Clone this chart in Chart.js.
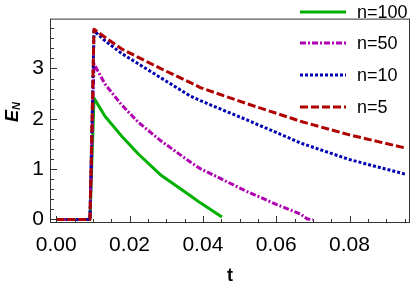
<!DOCTYPE html>
<html>
<head>
<meta charset="utf-8">
<script src="https://cdn.jsdelivr.net/npm/chart.js@4.4.1/dist/chart.umd.min.js"></script>
<style>
  html, body { margin: 0; padding: 0; background: #fff; }
  .chart-size { position: relative; width: 413px; height: 288px; }
</style>
</head>
<body>
<div class="chart-size"><canvas id="c" width="413" height="288"></canvas></div>
<script>
// values
const labels = ['n=100', 'n=50', 'n=10', 'n=5'];

const tN100 = [0, 0.0092, 0.0103, 0.0133, 0.0178, 0.0224, 0.0284, 0.0366, 0.0393, 0.0452];
const eN100 = [0, 0, 2.41, 2.05, 1.66, 1.30, 0.89, 0.47, 0.33, 0.05];

const tN50 = [0, 0.0092, 0.0103, 0.0133, 0.0178, 0.0224, 0.0284, 0.0366, 0.0393, 0.0516, 0.0600, 0.0666, 0.0685, 0.0700];
const eN50 = [0, 0, 3.09, 2.69, 2.28, 1.93, 1.57, 1.14, 1.01, 0.57, 0.30, 0.11, 0.01, 0.0];

const tN10 = [0, 0.0092, 0.0103, 0.0133, 0.0178, 0.0284, 0.0366, 0.0393, 0.0516, 0.0638, 0.0666, 0.0800, 0.0952];
const eN10 = [0, 0, 3.75, 3.55, 3.30, 2.82, 2.45, 2.36, 1.99, 1.61, 1.52, 1.19, 0.90];

const tN5 = [0, 0.0092, 0.0103, 0.0133, 0.0178, 0.0284, 0.0366, 0.0393, 0.0516, 0.0638, 0.0666, 0.0800, 0.0952];
const eN5 = [0, 0, 3.78, 3.62, 3.39, 3.00, 2.72, 2.62, 2.31, 2.02, 1.95, 1.68, 1.42];

const xTicks = [0, 0.02, 0.04, 0.06, 0.08];
const yTicks = [0, 1, 2, 3];

const pts = (t, e) => t.map((v, i) => ({ x: v, y: e[i] }));

const FONT = '"Liberation Sans", Arial, sans-serif';

const frame = {
    id: 'frame',
    afterDraw(chart) {
        const { ctx, chartArea: a, scales } = chart;
        const x = scales.x, y = scales.y;
        ctx.save();
        ctx.strokeStyle = '#333';
        ctx.lineWidth = 1;
        ctx.strokeRect(a.left + 0.5, a.top + 0.5, a.right - a.left - 1, a.bottom - a.top - 1);
        ctx.beginPath();
        for (let k = 0; k <= 19; k++) {
            const v = k * 0.005;
            const px = Math.round(x.getPixelForValue(v)) + 0.5;
            const len = k % 4 === 0 ? 7 : 4;
            ctx.moveTo(px, a.bottom);
            ctx.lineTo(px, a.bottom - len);
        }
        for (let k = 0; k <= 19; k++) {
            const v = k * 0.2;
            const py = Math.round(y.getPixelForValue(v)) + 0.5;
            if (py < a.top + 2) continue;
            const len = k % 5 === 0 ? 7 : 4;
            ctx.moveTo(a.left, py);
            ctx.lineTo(a.left + len, py);
        }
        ctx.stroke();

        // legend
        const rows = [12, 43, 75, 107];
        chart.data.datasets.forEach((ds, i) => {
            ctx.beginPath();
            ctx.strokeStyle = ds.borderColor;
            ctx.lineWidth = ds.borderWidth;
            ctx.setLineDash(ds.borderDash || []);
            ctx.moveTo(300, rows[i]);
            ctx.lineTo(346, rows[i]);
            ctx.stroke();
            ctx.setLineDash([]);
            ctx.fillStyle = '#000';
            ctx.font = '18px ' + FONT;
            ctx.textBaseline = 'middle';
            ctx.textAlign = 'left';
            ctx.fillText(ds.label, 357, rows[i] + 1);
        });

        // axis titles
        ctx.fillStyle = '#000';
        ctx.font = 'bold 18px ' + FONT;
        ctx.textAlign = 'center';
        ctx.textBaseline = 'middle';
        ctx.fillText('t', (a.left + a.right) / 2, 276);

        ctx.translate(13, 112);
        ctx.rotate(-Math.PI / 2);
        ctx.textAlign = 'left';
        ctx.textBaseline = 'middle';
        ctx.font = 'italic bold 18px ' + FONT;
        const w = ctx.measureText('E').width;
        ctx.fillText('E', -10, 0);
        ctx.font = 'italic bold 11px ' + FONT;
        ctx.fillText('N', -10 + w, 4);
        ctx.restore();
    }
};

new Chart(document.getElementById('c'), {
    type: 'line',
    data: {
        datasets: [
            { label: labels[0], data: pts(tN100, eN100), borderColor: '#00b000', borderWidth: 3, order: 3 },
            { label: labels[1], data: pts(tN50, eN50), borderColor: '#b000b0', borderWidth: 3, borderDash: [6, 2, 2, 2], order: 2 },
            { label: labels[2], data: pts(tN10, eN10), borderColor: '#0000b0', borderWidth: 3, borderDash: [3, 2], order: 1 },
            { label: labels[3], data: pts(tN5, eN5), borderColor: '#b00000', borderWidth: 3, borderDash: [8, 3], order: 0 }
        ]
    },
    options: {
        responsive: false,
        animation: false,
        devicePixelRatio: 1,
        layout: { padding: { top: 1, right: 3, left: 0, bottom: 0 } },
        elements: {
            point: { radius: 0 },
            line: { tension: 0, borderCapStyle: 'butt', borderJoinStyle: 'round', fill: false }
        },
        plugins: { legend: { display: false }, tooltip: { enabled: false } },
        scales: {
            x: {
                type: 'linear',
                min: -0.0017,
                max: 0.0965,
                afterFit: s => { s.height = 65; },
                afterBuildTicks: s => { s.ticks = xTicks.map(v => ({ value: v })); },
                grid: { display: false, drawTicks: false },
                border: { display: false },
                ticks: {
                    padding: 10,
                    color: '#000',
                    font: { family: FONT, size: 21 },
                    maxRotation: 0,
                    callback: v => v.toFixed(2)
                }
            },
            y: {
                type: 'linear',
                min: -0.07,
                max: 3.99,
                afterFit: s => { s.width = 50; },
                afterBuildTicks: s => { s.ticks = yTicks.map(v => ({ value: v })); },
                grid: { display: false, drawTicks: false },
                border: { display: false },
                ticks: {
                    padding: 6,
                    color: '#000',
                    font: { family: FONT, size: 21 },
                    callback: v => String(v)
                }
            }
        }
    },
    plugins: [frame]
});
</script>
</body>
</html>
